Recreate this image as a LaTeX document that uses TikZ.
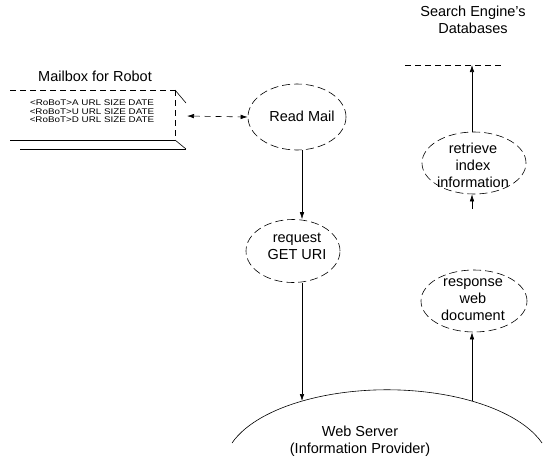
\documentclass[tikz,border=0pt]{standalone}
\usepackage{fontspec}
\setmainfont{Liberation Sans}
\usetikzlibrary{shapes.geometric,arrows.meta}
\begin{document}
\begin{tikzpicture}[x=1pt,y=-1pt,
  lbl/.style={font=\fontsize{14.5}{17}\selectfont, align=center, inner sep=0pt},
  entry/.style={font=\fontsize{8.2}{8}\selectfont, inner sep=0pt},
  task/.style={ellipse, draw, dash pattern=on 8pt off 4pt, inner sep=0pt, line width=0.6pt},
  edge/.style={line width=0.6pt},
  brk/.style={line width=0.6pt, dash pattern=on 6pt off 4pt},
  arr/.style={-{Latex[length=7pt,width=4.5pt]}, line width=0.6pt},
  darr/.style={{Latex[length=7pt,width=4.5pt]}-{Latex[length=7pt,width=4.5pt]}, line width=0.6pt, dash pattern=on 6pt off 5pt},
]
\useasboundingbox (0,0) rectangle (544,466);

% headings
\node[lbl] (dbTitle) at (473,20) {Search Engine's\\Databases};
\node[lbl] (mbTitle) at (95,76) {Mailbox for Robot};

% mailbox tray
\draw[brk] (10,90) -- (175,90);
\draw[edge] (175,90) -- (186,103);
\draw[brk] (175,90) -- (175,140);
\draw[edge] (10,140) -- (175,140);
\draw[edge] (175,140) -- (186,149);
\draw[edge] (20,149) -- (186,149);
\coordinate (mbox) at (187,116);
\node[entry] (e1) at (92,103) {\scalebox{1.2}[1]{<RoBoT>A URL SIZE DATE}};
\node[entry] (e2) at (92,111.5) {\scalebox{1.2}[1]{<RoBoT>U URL SIZE DATE}};
\node[entry] (e3) at (92,120) {\scalebox{1.2}[1]{<RoBoT>D URL SIZE DATE}};

% database store
\coordinate (dbL) at (405,65);
\coordinate (dbR) at (502,65);
\coordinate (db) at (472,65);
\draw[brk] (dbL) -- (dbR);

% processes
\node[task, minimum width=98pt, minimum height=66pt] (readmail) at (297,117) {};
\node[lbl] (readmailText) at (302,116) {Read Mail};
\node[task, minimum width=94pt, minimum height=63pt] (request) at (293,251) {};
\node[lbl] (requestText) at (297,246) {request\\GET URI};
\node[task, minimum width=104pt, minimum height=62pt] (retrieve) at (474,163) {};
\node[lbl] (retrieveText) at (473,165) {retrieve\\index\\information};
\node[task, minimum width=106pt, minimum height=62pt] (response) at (474,301) {};
\node[lbl] (responseText) at (473,300) {response\\web\\document};

% web server
\draw[edge] (232,443) arc[start angle=162, end angle=18, x radius=163pt, y radius=77pt];
\node[lbl] (server) at (360,441) {Web Server\\(Information Provider)};
\coordinate (srvIn) at (302,401);
\coordinate (srvOut) at (472,401);
\coordinate (stub) at (472,209);

% connectors
\draw[darr] (mbox) -- (readmail.west);
\draw[arr] ([xshift=5pt]readmail.south) -- ([xshift=9pt]request.north);
\draw[arr] ([xshift=9pt]request.south) -- (srvIn);
\draw[arr] (srvOut) -- ([xshift=-2pt]response.south);
\draw[arr] (stub) -- ([xshift=-2pt]retrieve.south);
\draw[arr] ([xshift=-2pt]retrieve.north) -- (db);
\end{tikzpicture}
\end{document}
